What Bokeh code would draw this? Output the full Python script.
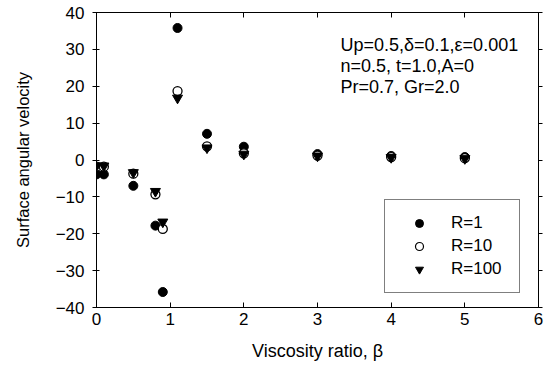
from bokeh.plotting import figure
from bokeh.models import (LinearAxis, Legend, LegendItem, Label, ColumnDataSource,
                          FixedTicker, Range1d, CustomLabelingPolicy, CustomJSTickFormatter)
from bokeh.embed import file_html
from bokeh.resources import INLINE

# Data
beta = [0, 0.1, 0.5, 0.8, 0.9, 1.1, 1.5, 2, 3, 4, 5]
r1 = [-3.9, -3.9, -7.0, -17.8, -35.8, 35.8, 7.1, 3.6, 1.6, 1.1, 0.8]
r10 = [-1.8, -1.8, -3.7, -9.3, -18.7, 18.7, 3.7, 1.8, 1.2, 0.8, 0.5]
r100 = [-1.6, -1.6, -3.4, -8.5, -16.8, 16.8, 3.3, 1.6, 1.1, 0.7, 0.4]
labels = ["R=1", "R=10", "R=100"]
x_ticks = [0, 1, 2, 3, 4, 5, 6]
y_ticks = [-40, -30, -20, -10, 0, 10, 20, 30, 40]
notes = ["Up=0.5,\u03b4=0.1,\u03b5=0.001", "n=0.5, t=1.0,A=0", "Pr=0.7, Gr=2.0"]

FONT = "Liberation Sans"

p = figure(width=551, height=368, output_backend="svg", toolbar_location=None,
           x_range=Range1d(0, 6), y_range=Range1d(-40, 40),
           x_axis_label="Viscosity ratio, \u03b2", y_axis_label="Surface angular velocity",
           min_border_left=96, min_border_right=13, min_border_top=12, min_border_bottom=61)
p.xgrid.visible = False
p.ygrid.visible = False
p.outline_line_color = "black"
p.outline_line_width = 1
p.background_fill_color = "white"
p.border_fill_color = "white"

for ax in (p.xaxis[0], p.yaxis[0]):
    ax.axis_label_text_font = FONT
    ax.axis_label_text_font_style = "normal"
    ax.major_label_text_font = FONT
    ax.major_label_text_font_size = "17px"
    ax.axis_line_color = "black"
    ax.major_tick_line_color = "black"
    ax.minor_tick_line_color = None
    ax.axis_label_text_color = "black"
    ax.major_label_text_color = "black"

p.xaxis[0].axis_label_text_font_size = "18px"
p.yaxis[0].axis_label_text_font_size = "16.5px"

p.xaxis[0].ticker = FixedTicker(ticks=x_ticks)
p.xaxis[0].major_tick_in = 5
p.xaxis[0].major_tick_out = 0
p.xaxis[0].major_label_standoff = 5
p.xaxis[0].axis_label_standoff = 13

p.yaxis[0].ticker = FixedTicker(ticks=y_ticks)
p.yaxis[0].major_tick_in = 3
p.yaxis[0].major_tick_out = 4
p.yaxis[0].major_label_standoff = 8
p.yaxis[0].axis_label_standoff = 21

hide = "for (const i of indices) indices.unset(i)"
blank = "return ''"
top = LinearAxis(ticker=FixedTicker(ticks=x_ticks), major_tick_in=5, major_tick_out=0,
                 formatter=CustomJSTickFormatter(code=blank),
                 major_label_policy=CustomLabelingPolicy(code=hide), major_label_standoff=0,
                 minor_tick_line_color=None, axis_line_color="black")
right = LinearAxis(ticker=FixedTicker(ticks=y_ticks), major_tick_in=0, major_tick_out=4,
                   formatter=CustomJSTickFormatter(code=blank),
                   major_label_policy=CustomLabelingPolicy(code=hide), major_label_standoff=0,
                   minor_tick_line_color=None, axis_line_color="black")
p.add_layout(top, "above")
p.add_layout(right, "right")

src = ColumnDataSource(dict(x=beta, r1=r1, r10=r10, r100=r100))
p.scatter("x", "r1", source=src, marker="circle", size=9, fill_color="black", line_color="black")
p.scatter("x", "r10", source=src, marker="circle", size=9, fill_color="white", line_color="black", line_width=1.3)
p.scatter("x", "r100", source=src, marker="inverted_triangle", size=10, fill_color="black", line_color="black")

# legend-only glyphs (smaller markers like the reference legend), placed outside the visible range
off = ColumnDataSource(dict(x=[-100], y=[-1000]))
l1 = p.scatter("x", "y", source=off, marker="circle", size=7, fill_color="black", line_color="black")
l2 = p.scatter("x", "y", source=off, marker="circle", size=7, fill_color="white", line_color="black", line_width=1.2)
l3 = p.scatter("x", "y", source=off, marker="inverted_triangle", size=8, fill_color="black", line_color="black")

legend = Legend(items=[LegendItem(label=labels[0], renderers=[l1]),
                       LegendItem(label=labels[1], renderers=[l2]),
                       LegendItem(label=labels[2], renderers=[l3])],
                location=(288, 14), padding=13, spacing=3, glyph_width=42, glyph_height=20,
                label_standoff=11, label_width=55, label_text_font=FONT, label_text_font_size="17px",
                label_text_color="black",
                border_line_color="black", border_line_width=1, background_fill_alpha=1,
                margin=0)
p.add_layout(legend, "center")

note_y = [31.3, 25.6, 19.9]
for t, yy in zip(notes, note_y):
    p.add_layout(Label(x=3.312, y=yy, text=t, text_font=FONT, text_font_size="18px",
                       text_baseline="alphabetic", text_align="left", text_color="black"))

open("out.html", "w").write(file_html(p, INLINE))
